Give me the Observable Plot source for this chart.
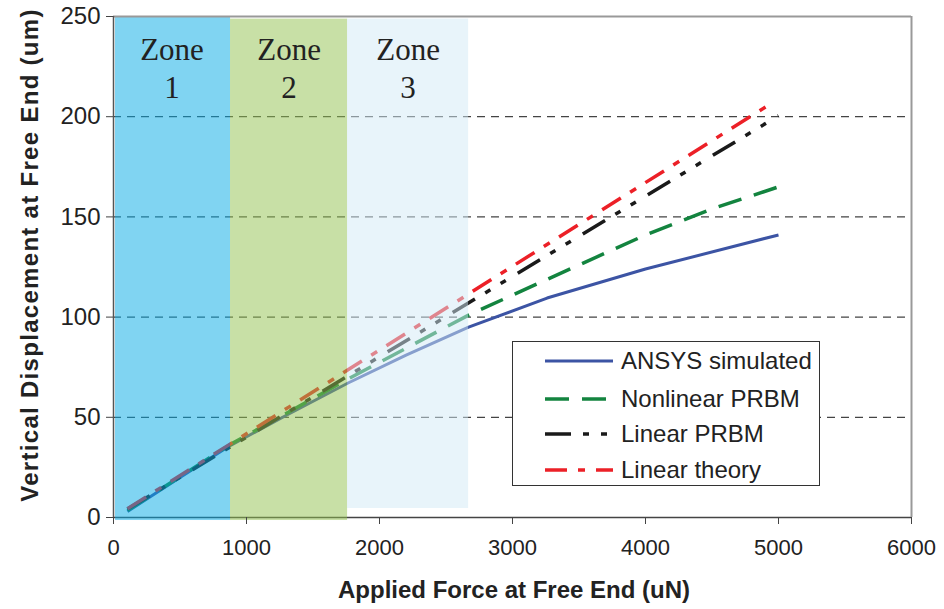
<!DOCTYPE html>
<html><head><meta charset="utf-8">
<script src="https://cdn.jsdelivr.net/npm/d3@7"></script>
<script src="https://cdn.jsdelivr.net/npm/@observablehq/plot@0.6"></script>
<style>
body{margin:0;background:#fff;}
#wrap{position:relative;width:944px;height:609px;overflow:hidden;}
.ttl{position:absolute;font-family:"Liberation Sans",Arial,sans-serif;font-weight:bold;font-size:24px;color:#222;white-space:nowrap;}
#xt{left:514px;top:590px;transform:translate(-50%,-50%);}
#yt{left:30px;top:255px;transform:translate(-50%,-50%) rotate(-90deg);letter-spacing:1.3px;}
#legend{position:absolute;left:512px;top:341px;width:308px;height:145px;border:1.5px solid #333;background:#fff;font-family:"Liberation Sans",Arial,sans-serif;font-size:24px;color:#222;box-sizing:border-box;}
.row{position:absolute;left:32px;height:30px;display:flex;align-items:center;}
.row svg{width:70px;height:10px;margin-right:6px;}
</style></head><body><div id="wrap"></div>
<script>
// Axis ticks
const xTicks = [0, 1000, 2000, 3000, 4000, 5000, 6000];
const yTicks = [0, 50, 100, 150, 200, 250];
const gridValues = [50, 100, 150, 200];

// Zones
const zoneNames = ["Zone\n1", "Zone\n2", "Zone\n3"];
const zoneStart = [15, 880, 1760];
const zoneEnd = [880, 1760, 2670];
const zoneBottom = [-1.5, -1.5, 4.5];
const zoneTop = [250, 248.7, 248.7];
const zoneFill = ["#01a9e5", "#91c14d", "#d1e9f5"];

// Series
const seriesNames = ["ANSYS simulated", "Nonlinear PRBM", "Linear PRBM", "Linear theory"];
const ansysForce = [105, 500, 880, 1300, 1760, 2200, 2670, 3260, 4000, 5000];
const ansysDisp  = [3, 20, 36, 51, 67, 81, 95, 109.5, 124, 141];
const nonlinForce = [105, 880, 1760, 2670, 3000, 3500, 4000, 4500, 5000];
const nonlinDisp  = [3.5, 36.5, 69, 101, 111, 126, 141, 154, 165];
const linPrbmForce = [105, 5000];
const linPrbmDisp  = [4.2, 200.5];
const linTheoryForce = [105, 4930];
const linTheoryDisp  = [4.4, 206];

const colors = ["#3c54a4", "#13843f", "#1a1a1a", "#ec2027"];
const dashes = [null, "24,13", "26,12,6,12,6,14", "22,11,7,11"];

const toRows = (fx, fy) => fx.map((f, i) => ({x: f, y: fy[i]}));
const series = [
  toRows(ansysForce, ansysDisp),
  toRows(nonlinForce, nonlinDisp),
  toRows(linPrbmForce, linPrbmDisp),
  toRows(linTheoryForce, linTheoryDisp)
];
const zones = zoneNames.map((n, i) => ({name: n, x1: zoneStart[i], x2: zoneEnd[i], y1: zoneBottom[i], y2: zoneTop[i], fill: zoneFill[i], xm: (zoneStart[i] + zoneEnd[i]) / 2}));
zones[0].xm = (0 + zoneEnd[0]) / 2;

const lineMarks = series.map((d, i) => Plot.line(d, {x: "x", y: "y", stroke: colors[i], strokeWidth: i === 0 ? 3 : 3.5, strokeDasharray: dashes[i] || undefined, strokeLinecap: "butt"}));

const chart = Plot.plot({
  width: 944, height: 609,
  marginLeft: 113, marginRight: 33, marginTop: 16, marginBottom: 92,
  x: {domain: [0, 6000]},
  y: {domain: [0, 250]},
  style: {fontFamily: "Liberation Sans, Arial, sans-serif", fontSize: "22px", color: "#222", background: "#fff"},
  marks: [
    Plot.ruleY(gridValues, {stroke: "#444", strokeWidth: 1.2, strokeDasharray: "8,6"}),
    Plot.ruleY([0], {stroke: "#444", strokeWidth: 1.5}),
    ...lineMarks,
    Plot.rect(zones, {x1: "x1", x2: "x2", y1: "y1", y2: "y2", fill: "fill", fillOpacity: 0.5}),
    Plot.ruleY([250], {stroke: "#999", strokeWidth: 2}),
    Plot.ruleX([6000], {stroke: "#999", strokeWidth: 2}),
    Plot.ruleX([0], {stroke: "#555", strokeWidth: 1.5}),
    Plot.text(zones, {x: "xm", y: 250, text: "name", lineAnchor: "top", dy: 17, lineHeight: 1.22, fontSize: 31, fontFamily: "Liberation Serif, Times New Roman, serif", fill: "#222"}),
    Plot.axisX(xTicks, {tickSize: 7, tickPadding: 15, label: null, stroke: "#444", fontSize: 22, tickFormat: d3.format("d")}),
    Plot.axisY(yTicks, {tickSize: 7, tickPadding: 6, label: null, stroke: "#444", fontSize: 24, tickFormat: d3.format("d")})
  ]
});
const wrap = document.getElementById("wrap");
wrap.appendChild(chart);

const xt = document.createElement("div"); xt.className = "ttl"; xt.id = "xt"; xt.textContent = "Applied Force at Free End (uN)"; wrap.appendChild(xt);
const yt = document.createElement("div"); yt.className = "ttl"; yt.id = "yt"; yt.textContent = "Vertical Displacement at Free End (um)"; wrap.appendChild(yt);

const leg = document.createElement("div"); leg.id = "legend";
const rowTops = [4, 42, 77, 113];
seriesNames.forEach((n, i) => {
  const r = document.createElement("div"); r.className = "row"; r.style.top = rowTops[i] + "px";
  r.innerHTML = `<svg viewBox="0 0 70 10"><line x1="0" y1="5" x2="68" y2="5" stroke="${colors[i]}" stroke-width="${i === 0 ? 3 : 3.5}" ${dashes[i] ? `stroke-dasharray="${dashes[i]}"` : ""}/></svg><span>${n}</span>`;
  leg.appendChild(r);
});
wrap.appendChild(leg);
</script></body></html>
